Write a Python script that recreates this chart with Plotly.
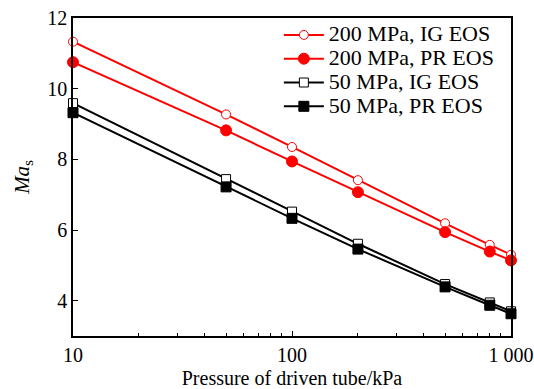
import plotly.graph_objects as go

pressure = [10, 50, 100, 200, 500, 800, 1000]
ig_200 = [11.33, 9.27, 8.35, 7.41, 6.19, 5.58, 5.30]
pr_200 = [10.75, 8.82, 7.94, 7.07, 5.94, 5.39, 5.14]
ig_50 = [9.59, 7.44, 6.52, 5.61, 4.47, 3.95, 3.70]
pr_50 = [9.32, 7.22, 6.33, 5.46, 4.39, 3.87, 3.63]

names = ["200 MPa, IG EOS", "200 MPa, PR EOS", "50 MPa, IG EOS", "50 MPa, PR EOS"]
x_tickvals = [10, 100, 1000]
x_ticktext = ["10", "100", "1 000"]
x_minor = [20, 30, 40, 50, 60, 70, 80, 90, 200, 300, 400, 500, 600, 700, 800, 900]
y_tickvals = [4, 6, 8, 10, 12]

FONT = "Liberation Serif"

fig = go.Figure()
styles = [
    (ig_200, "red", "circle", "white", 9),
    (pr_200, "red", "circle", "red", 11),
    (ig_50, "black", "square", "white", 9),
    (pr_50, "black", "square", "black", 10),
]
for (vals, col, sym, fill, sz), nm in zip(styles, names):
    fig.add_trace(go.Scatter(
        x=pressure, y=vals, name='<span style="font-size:22px">' + nm + '</span>',
        mode="lines+markers",
        line=dict(color=col, width=2),
        marker=dict(symbol=sym, size=sz, color=fill, line=dict(color=col, width=1)),
        cliponaxis=False,
    ))

fig.update_layout(
    width=534, height=389,
    margin=dict(l=73, r=23, t=18, b=53, autoexpand=False),
    paper_bgcolor="white", plot_bgcolor="white",
    font=dict(family=FONT, size=20, color="black"),
    showlegend=True,
    legend=dict(x=0.47, y=1.0, xanchor="left", yanchor="top",
                bgcolor="rgba(0,0,0,0)", font=dict(family=FONT, size=16),
                tracegroupgap=0, itemwidth=40),
    xaxis=dict(
        type="log", range=[1, 3], automargin=False,
        tickmode="array", tickvals=x_tickvals, ticktext=x_ticktext,
        ticks="inside", ticklen=5, tickwidth=1.3, tickcolor="black",
        minor=dict(ticks="inside", ticklen=3, tickwidth=1.2, tickcolor="black",
                   tickmode="array", tickvals=x_minor, showgrid=False),
        showline=True, linecolor="black", linewidth=1.5, mirror=True,
        showgrid=False, zeroline=False,
        tickfont=dict(family=FONT, size=20),
        title=dict(text="Pressure of driven tube/kPa", font=dict(family=FONT, size=20), standoff=10),
    ),
    yaxis=dict(
        range=[3, 12], automargin=False,
        tickmode="array", tickvals=y_tickvals,
        ticks="inside", ticklen=5, tickwidth=1.3, tickcolor="black",
        showline=True, linecolor="black", linewidth=1.5, mirror=True,
        showgrid=False, zeroline=False,
        tickfont=dict(family=FONT, size=20),
        title=dict(text="<i>Ma</i><sub>s</sub>", font=dict(family=FONT, size=21), standoff=12),
    ),
)

fig.write_html("out.html")
